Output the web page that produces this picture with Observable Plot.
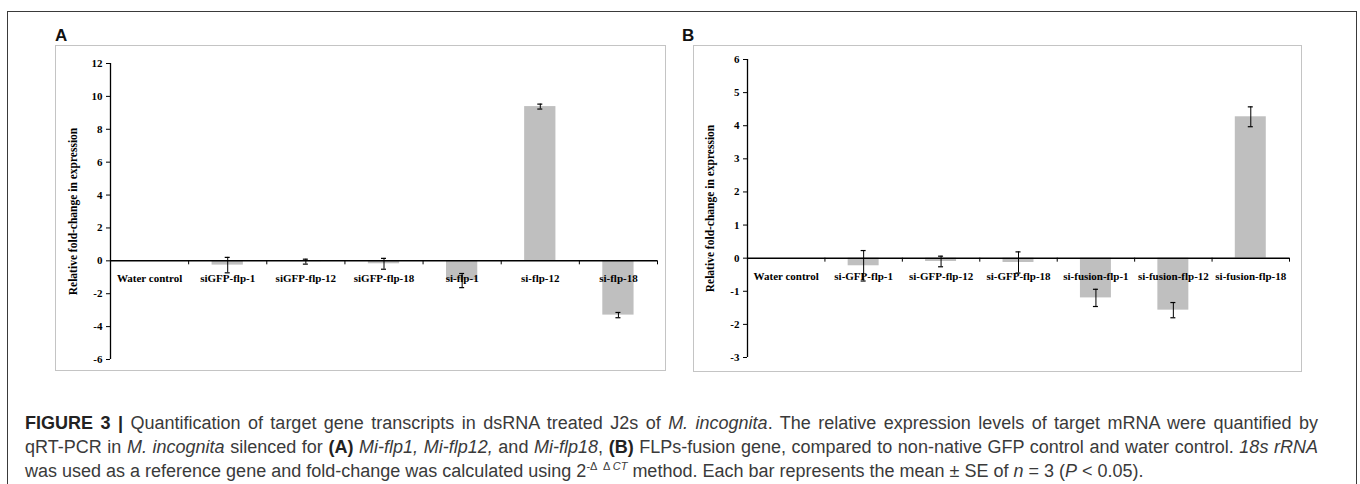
<!DOCTYPE html>
<html>
<head>
<meta charset="utf-8">
<script src="https://cdn.jsdelivr.net/npm/d3@7"></script>
<script src="https://cdn.jsdelivr.net/npm/@observablehq/plot@0.6"></script>
<style>
  html, body { margin: 0; padding: 0; background: #fff; }
  body { width: 1360px; height: 484px; overflow: hidden; position: relative; }
  #frame { position: absolute; left: 7px; top: 11px; width: 1350px; height: 480px; border: 1.5px solid #3a3a3a; box-sizing: border-box; }
  .plabel { position: absolute; font: bold 17px 'Liberation Sans', Arial, sans-serif; line-height: 17px; color: #111; }
  .panel { position: absolute; }
  .panel svg { outline: 1px solid #c4c4c4; outline-offset: -1px; display: block; }
  #caption { position: absolute; left: 25px; top: 411px; font: 18px 'Liberation Sans', Arial, sans-serif; line-height: 24px; color: #3a3a3a; white-space: nowrap; }
  #caption .j { width: 1293px; text-align: justify; text-align-last: justify; white-space: normal; }
  #caption b { color: #222; }
  #caption sup { font-size: 11px; line-height: 0; vertical-align: 7px; }
</style>
</head>
<body>
<div id="frame"></div>
<div class="plabel" style="left:55px; top:27px;">A</div>
<div class="plabel" style="left:682px; top:27px;">B</div>
<div class="panel" id="panelA" style="left:55px; top:45px;"></div>
<div class="panel" id="panelB" style="left:693px; top:45px;"></div>
<div id="caption">
<div class="j"><b>FIGURE 3 |</b> Quantification of target gene transcripts in dsRNA treated J2s of <i>M. incognita</i>. The relative expression levels of target mRNA were quantified by</div>
<div class="j">qRT-PCR in <i>M. incognita</i> silenced for <b>(A)</b> <i>Mi-flp1, Mi-flp12,</i> and <i>Mi-flp18</i>, <b>(B)</b> FLPs-fusion gene, compared to non-native GFP control and water control. <i>18s rRNA</i></div>
<div>was used as a reference gene and fold-change was calculated using 2<sup>-&Delta; &nbsp;&Delta; <i>CT</i></sup> method. Each bar represents the mean &plusmn; SE of <i>n</i> = 3 (<i>P</i> &lt; 0.05).</div>
</div>
<script>
// ---- Data ----
const yLabel = "Relative fold-change in expression";

const categoriesA = ["Water control", "siGFP-flp-1", "siGFP-flp-12", "siGFP-flp-18", "si-flp-1", "si-flp-12", "si-flp-18"];
const valuesA = [0, -0.26, -0.05, -0.18, -1.2, 9.38, -3.3];
const errorsA = [0, 0.47, 0.15, 0.33, 0.43, 0.15, 0.16];
const yDomainA = [-6, 12];
const yTicksA = [-6, -4, -2, 0, 2, 4, 6, 8, 10, 12];

const categoriesB = ["Water control", "si-GFP-flp-1", "si-GFP-flp-12", "si-GFP-flp-18", "si-fusion-flp-1", "si-fusion-flp-12", "si-fusion-flp-18"];
const valuesB = [0, -0.23, -0.1, -0.13, -1.2, -1.57, 4.27];
const errorsB = [0, 0.46, 0.16, 0.32, 0.26, 0.23, 0.3];
const yDomainB = [-3, 6];
const yTicksB = [-3, -2, -1, 0, 1, 2, 3, 4, 5, 6];

function panel(cats, vals, errs, domain, ticks, L) {
  const data = cats.map((c, i) => ({cat: c, v: vals[i], e: errs[i]}));
  const errData = data.filter(d => d.e > 0);
  const pInner = 0.6;
  const step = (L.width - L.ml - L.mr) / cats.length;
  const bw = step * (1 - pInner);
  const capW = 5;
  const capInset = (bw - capW) / 2;
  const unitPx = (L.height - L.mt - L.mb) / (domain[1] - domain[0]);
  const tickLen = 4 / unitPx;
  return Plot.plot({
    width: L.width, height: L.height,
    marginLeft: L.ml, marginRight: L.mr, marginTop: L.mt, marginBottom: L.mb,
    style: {fontFamily: "'Liberation Serif', 'Times New Roman', serif", fontWeight: "bold", fontSize: "11px", color: "#000", background: "transparent", overflow: "visible"},
    x: {domain: cats, type: "band", paddingInner: pInner, paddingOuter: pInner / 2, round: false, axis: null},
    y: {domain, axis: null},
    marks: [
      Plot.barY(data, {x: "cat", y: "v", fill: "#bfbfbf"}),
      Plot.text(data, {x: "cat", y: () => 0, dy: 18, text: "cat", fontSize: 11, fontWeight: "bold", fill: "#000"}),
      Plot.ruleX(errData, {x: "cat", y1: d => d.v - d.e, y2: d => d.v + d.e, stroke: "#000", strokeWidth: 1}),
      Plot.tickY(errData, {x: "cat", y: d => d.v + d.e, insetLeft: capInset, insetRight: capInset, stroke: "#000", strokeWidth: 1.2}),
      Plot.tickY(errData, {x: "cat", y: d => d.v - d.e, insetLeft: capInset, insetRight: capInset, stroke: "#000", strokeWidth: 1.2}),
      Plot.ruleY([0], {stroke: "#000", strokeWidth: 1.5}),
      Plot.ruleX(cats, {x: d => d, y1: () => 0, y2: () => -tickLen, dx: step / 2, stroke: "#000", strokeWidth: 1}),
      Plot.ruleX([cats[0]], {x: d => d, y1: () => domain[0], y2: () => domain[1], dx: -step / 2, stroke: "#000", strokeWidth: 1.3}),
      Plot.axisY({ticks, tickFormat: d => String(d), tickSize: 4, tickPadding: 4, label: null, fontSize: 11}),
      Plot.text([yLabel], {frameAnchor: "left", textAnchor: "middle", rotate: -90, dx: -37, text: d => d, fontSize: 11.5, fontWeight: "bold", fill: "#000"})
    ]
  });
}

document.getElementById("panelA").append(
  panel(categoriesA, valuesA, errorsA, yDomainA, yTicksA, {width: 611, height: 326, ml: 55, mr: 9, mt: 18, mb: 12})
);
document.getElementById("panelB").append(
  panel(categoriesB, valuesB, errorsB, yDomainB, yTicksB, {width: 609, height: 327, ml: 54, mr: 13, mt: 14, mb: 15})
);
</script>
</body>
</html>
